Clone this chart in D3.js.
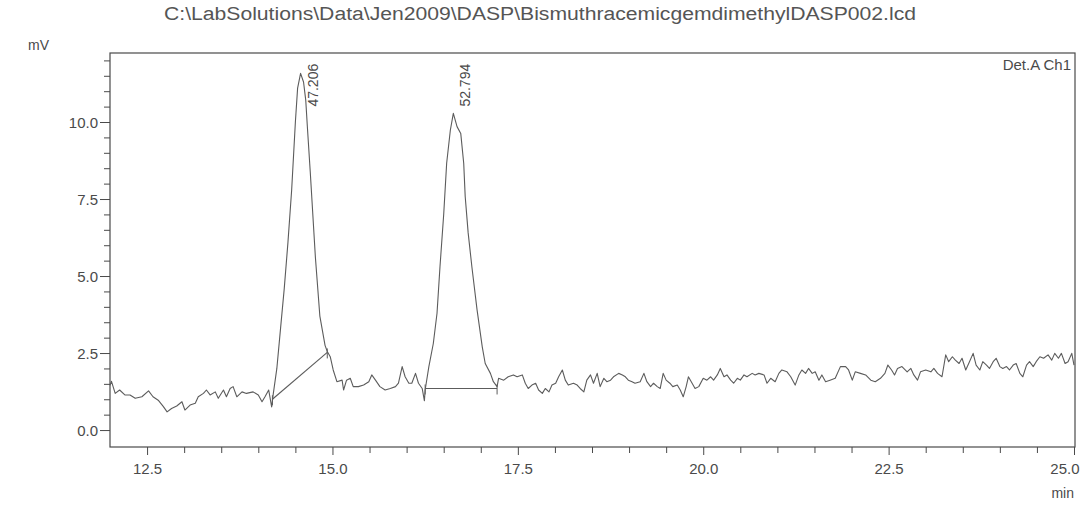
<!DOCTYPE html>
<html>
<head>
<meta charset="utf-8">
<script src="https://cdn.jsdelivr.net/npm/d3@7"></script>
<style>
  body { margin: 0; background: #fff; }
  svg { display: block; font-family: "Liberation Sans", Arial, sans-serif; }
</style>
</head>
<body>
<svg id="chart" width="1081" height="506"></svg>
<script>
// Detector trace: retention time (min) and signal (mV)
const retentionTime = [
  12.00, 12.02, 12.07, 12.13, 12.20, 12.27, 12.34, 12.43, 12.52, 12.58,
  12.65, 12.72, 12.77, 12.83, 12.90, 12.97, 13.01, 13.08, 13.15, 13.19,
  13.26, 13.30, 13.35, 13.42, 13.46, 13.53, 13.57, 13.62, 13.66, 13.71,
  13.78, 13.84, 13.93, 14.00, 14.05, 14.09, 14.14, 14.18, 14.20, 14.25,
  14.30, 14.35, 14.40, 14.45, 14.50, 14.53, 14.57, 14.61, 14.64, 14.66,
  14.70, 14.77, 14.83, 14.90, 14.93, 14.97, 15.01, 15.06, 15.13, 15.15,
  15.19, 15.24, 15.28, 15.35, 15.42, 15.49, 15.53, 15.58, 15.64, 15.71,
  15.78, 15.85, 15.89, 15.94, 15.98, 16.03, 16.07, 16.12, 16.16, 16.21,
  16.24, 16.25, 16.30, 16.36, 16.41, 16.45, 16.50, 16.54, 16.59, 16.63,
  16.68, 16.73, 16.77, 16.79, 16.83, 16.88, 16.95, 17.02, 17.06, 17.13,
  17.17, 17.22, 17.24, 17.31, 17.37, 17.44, 17.49, 17.56, 17.60, 17.64,
  17.69, 17.74, 17.78, 17.83, 17.87, 17.92, 17.96, 18.01, 18.05, 18.10,
  18.14, 18.18, 18.25, 18.30, 18.34, 18.39, 18.43, 18.48, 18.52, 18.57,
  18.61, 18.66, 18.70, 18.75, 18.79, 18.86, 18.91, 18.95, 18.99, 19.04,
  19.08, 19.15, 19.20, 19.24, 19.29, 19.33, 19.38, 19.42, 19.46, 19.50,
  19.55, 19.59, 19.65, 19.69, 19.73, 19.77, 19.80, 19.85, 19.89, 19.94,
  20.00, 20.05, 20.10, 20.14, 20.19, 20.23, 20.28, 20.32, 20.37, 20.41,
  20.46, 20.50, 20.55, 20.59, 20.66, 20.70, 20.75, 20.82, 20.86, 20.91,
  20.97, 21.02, 21.06, 21.13, 21.18, 21.24, 21.29, 21.33, 21.38, 21.42,
  21.47, 21.51, 21.56, 21.60, 21.65, 21.71, 21.78, 21.85, 21.92, 21.96,
  22.01, 22.05, 22.12, 22.19, 22.26, 22.32, 22.39, 22.45, 22.49, 22.54,
  22.58, 22.62, 22.68, 22.75, 22.80, 22.84, 22.89, 22.93, 23.00, 23.07,
  23.11, 23.16, 23.22, 23.27, 23.31, 23.36, 23.40, 23.45, 23.49, 23.54,
  23.58, 23.64, 23.68, 23.73, 23.77, 23.82, 23.86, 23.91, 23.95, 24.00,
  24.04, 24.09, 24.13, 24.18, 24.22, 24.27, 24.31, 24.36, 24.40, 24.45,
  24.49, 24.54, 24.59, 24.65, 24.70, 24.74, 24.79, 24.83, 24.88, 24.92,
  24.97, 25.00
];
const signalMv = [
  1.45, 1.58, 1.19, 1.30, 1.14, 1.14, 1.03, 1.08, 1.27, 1.08,
  0.97, 0.76, 0.59, 0.70, 0.78, 0.92, 0.65, 0.81, 0.87, 1.08,
  1.19, 1.30, 1.14, 1.24, 1.03, 1.30, 1.08, 1.35, 1.41, 1.08,
  1.24, 1.19, 1.24, 1.14, 0.92, 1.08, 1.30, 0.75, 1.14, 2.00,
  3.30, 4.60, 6.10, 7.80, 10.00, 11.10, 11.58, 11.30, 10.70, 9.90,
  8.40, 5.60, 3.70, 2.75, 2.55, 2.38, 1.95, 1.57, 1.62, 1.30,
  1.62, 1.68, 1.41, 1.41, 1.46, 1.57, 1.79, 1.62, 1.41, 1.30,
  1.35, 1.41, 1.52, 2.06, 1.73, 1.52, 1.52, 1.84, 1.52, 1.35,
  0.95, 1.30, 2.06, 2.81, 3.79, 5.30, 7.00, 8.66, 9.74, 10.28,
  9.85, 9.63, 8.66, 7.58, 6.40, 5.30, 3.90, 2.70, 2.16, 1.84,
  1.57, 1.41, 1.68, 1.62, 1.73, 1.79, 1.73, 1.79, 1.52, 1.35,
  1.46, 1.52, 1.30, 1.19, 1.35, 1.24, 1.46, 1.52, 1.73, 1.95,
  1.62, 1.46, 1.52, 1.46, 1.35, 1.24, 1.62, 1.79, 1.52, 1.84,
  1.41, 1.68, 1.57, 1.62, 1.73, 1.84, 1.79, 1.73, 1.62, 1.57,
  1.52, 1.57, 1.84, 1.57, 1.41, 1.52, 1.41, 1.35, 1.84, 1.62,
  1.52, 1.41, 1.46, 1.30, 1.08, 1.41, 1.73, 1.52, 1.35, 1.41,
  1.68, 1.62, 1.73, 1.62, 1.79, 2.00, 1.73, 1.79, 1.62, 1.52,
  1.68, 1.62, 1.79, 1.73, 1.84, 1.79, 1.84, 1.79, 1.52, 1.68,
  1.57, 1.84, 1.95, 1.89, 1.73, 1.46, 1.79, 1.95, 1.84, 2.00,
  1.84, 1.89, 1.62, 1.79, 1.57, 1.62, 1.68, 2.06, 2.06, 1.95,
  1.62, 1.89, 1.84, 1.79, 1.62, 1.57, 1.68, 1.84, 2.11, 1.95,
  1.79, 2.00, 2.06, 1.89, 2.00, 1.79, 1.62, 1.89, 1.95, 1.89,
  2.00, 1.84, 1.73, 2.44, 2.22, 2.38, 2.27, 2.16, 2.33, 1.95,
  2.16, 2.49, 2.11, 1.95, 2.22, 2.11, 2.00, 2.22, 2.33, 2.06,
  2.00, 2.06, 1.95, 2.11, 2.16, 1.84, 1.73, 2.11, 2.22, 2.06,
  2.22, 2.38, 2.33, 2.44, 2.27, 2.49, 2.33, 2.49, 2.16, 2.22,
  2.49, 2.11
];

// Integration baselines drawn under each peak: [start time, start mV, end time, end mV]
const baselineStartTime = [14.19, 16.25];
const baselineStartMv   = [1.00, 1.35];
const baselineEndTime   = [14.93, 17.22];
const baselineEndMv     = [2.52, 1.35];

// Peak apex times and their annotations
const peakTime  = [14.57, 16.63];
const peakLabel = ["47.206", "52.794"];

// Axis ticks
const xTickMajor = [12.5, 15.0, 17.5, 20.0, 22.5, 25.0];
const yTickMajor = [0.0, 2.5, 5.0, 7.5, 10.0];

const titleText = "C:\\LabSolutions\\Data\\Jen2009\\DASP\\BismuthracemicgemdimethylDASP002.lcd";
const channelText = "Det.A Ch1";

const svg = d3.select("#chart");
const plot = { left: 110, right: 1074, top: 53, bottom: 447 };

const x = d3.scaleLinear().domain([12, 25]).range([plot.left, plot.right]);
const y = d3.scaleLinear().domain([-0.55, 12.24]).range([plot.bottom, plot.top]);

const ink = "#4a4a4a";
const traceInk = "#5c5c5c";

// Minor ticks every 0.5 units
const xTickMinor = d3.range(12.5, 25.01, 0.5).filter(v => !xTickMajor.some(m => Math.abs(m - v) < 1e-6));
const yTickMinor = d3.range(0, 12.01, 0.5).filter(v => !yTickMajor.some(m => Math.abs(m - v) < 1e-6));

const fmt = d3.format(".1f");

// Bottom axis
const gx = svg.append("g").attr("transform", `translate(0,${plot.bottom})`);
gx.call(d3.axisBottom(x).tickValues(xTickMajor).tickFormat(fmt).tickSize(8).tickSizeOuter(0));
const gxMinor = svg.append("g").attr("transform", `translate(0,${plot.bottom})`);
gxMinor.call(d3.axisBottom(x).tickValues(xTickMinor).tickFormat("").tickSize(6).tickSizeOuter(0));

// Left axis
const gy = svg.append("g").attr("transform", `translate(${plot.left},0)`);
gy.call(d3.axisLeft(y).tickValues(yTickMajor).tickFormat(fmt).tickSize(10).tickSizeOuter(0));
const gyMinor = svg.append("g").attr("transform", `translate(${plot.left},0)`);
gyMinor.call(d3.axisLeft(y).tickValues(yTickMinor).tickFormat("").tickSize(6).tickSizeOuter(0));

svg.selectAll(".domain").remove();
svg.selectAll(".tick line").attr("stroke", ink).attr("stroke-width", 1);
svg.selectAll(".tick text")
  .attr("fill", ink)
  .attr("font-size", 15)
  .attr("font-family", "\"Liberation Sans\", Arial, sans-serif");
gx.selectAll(".tick text").attr("dy", "1.05em");
// the last label sits flush against the right edge of the page
gx.selectAll(".tick text").filter(d => d === 25.0)
  .attr("text-anchor", "end").attr("x", 1079 - plot.right);
gy.selectAll(".tick text").attr("x", -12).attr("dy", "0.36em");

// Plot frame
svg.append("rect")
  .attr("x", plot.left).attr("y", plot.top)
  .attr("width", plot.right - plot.left + 1).attr("height", plot.bottom - plot.top)
  .attr("fill", "none").attr("stroke", ink).attr("stroke-width", 1.2);

// Integration baselines
const baselines = baselineStartTime.map((t, i) => [
  [t, baselineStartMv[i]], [baselineEndTime[i], baselineEndMv[i]]
]);
svg.append("g").selectAll("line")
  .data(baselines)
  .join("line")
  .attr("x1", d => x(d[0][0])).attr("y1", d => y(d[0][1]))
  .attr("x2", d => x(d[1][0])).attr("y2", d => y(d[1][1]))
  .attr("stroke", traceInk).attr("stroke-width", 1.1);

// Peak start / end markers
const markers = baselines.flat();
svg.append("g").selectAll("line")
  .data(markers)
  .join("line")
  .attr("x1", d => x(d[0])).attr("x2", d => x(d[0]))
  .attr("y1", d => y(d[1]) - 4).attr("y2", d => y(d[1]) + 6)
  .attr("stroke", traceInk).attr("stroke-width", 1);

// Detector trace
const trace = retentionTime.map((t, i) => [t, signalMv[i]]);
svg.append("path")
  .datum(trace)
  .attr("d", d3.line().x(d => x(d[0])).y(d => y(d[1])))
  .attr("fill", "none")
  .attr("stroke", traceInk)
  .attr("stroke-width", 1.1)
  .attr("stroke-linejoin", "round");

// Peak annotations, rotated to read upward
svg.append("g").selectAll("text")
  .data(peakTime)
  .join("text")
  .attr("transform", d => `translate(${x(d) + 17},${y(10.5)}) rotate(-90)`)
  .attr("fill", ink)
  .attr("font-size", 14)
  .text((d, i) => peakLabel[i]);

// Title
svg.append("text")
  .attr("x", 540).attr("y", 20)
  .attr("text-anchor", "middle")
  .attr("fill", "#555")
  .attr("font-size", 18)
  .attr("textLength", 752)
  .attr("lengthAdjust", "spacingAndGlyphs")
  .text(titleText);

// Units
svg.append("text")
  .attr("x", 28).attr("y", 50)
  .attr("fill", ink).attr("font-size", 14)
  .text("mV");
svg.append("text")
  .attr("x", plot.right).attr("y", 498)
  .attr("text-anchor", "end")
  .attr("fill", ink).attr("font-size", 14)
  .text("min");

// Channel name
svg.append("text")
  .attr("x", plot.right - 3).attr("y", 70)
  .attr("text-anchor", "end")
  .attr("fill", ink).attr("font-size", 15)
  .text(channelText);
</script>
</body>
</html>
